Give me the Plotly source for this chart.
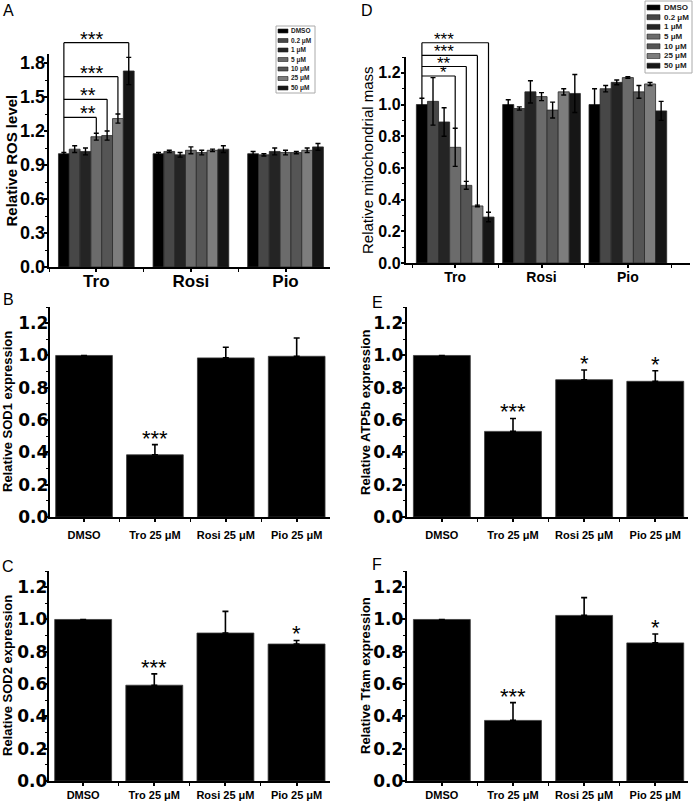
import plotly.graph_objects as go

W, H = 693, 806

# ---------------- data ----------------
conc_labels = ["DMSO", "0.2 μM", "1 μM", "5 μM", "10 μM", "25 μM", "50 μM"]
conc_colors = ["#000000", "#474747", "#242424", "#6b6b6b", "#555555", "#7d7d7d", "#161616"]
drugs = ["Tro", "Rosi", "Pio"]

# Panel A: relative ROS level
ros_tro = [1.00, 1.04, 1.02, 1.15, 1.16, 1.31, 1.73]
ros_tro_err = [0.01, 0.03, 0.03, 0.03, 0.04, 0.04, 0.12]
ros_rosi = [1.00, 1.02, 0.99, 1.03, 1.01, 1.03, 1.04]
ros_rosi_err = [0.01, 0.01, 0.02, 0.03, 0.02, 0.01, 0.03]
ros_pio = [1.00, 0.99, 1.02, 1.01, 1.01, 1.03, 1.06]
ros_pio_err = [0.02, 0.01, 0.03, 0.02, 0.01, 0.02, 0.03]

# Panel D: relative mitochondrial mass
mito_tro = [1.00, 1.02, 0.89, 0.73, 0.49, 0.36, 0.29]
mito_tro_err = [0.04, 0.15, 0.09, 0.12, 0.025, 0.005, 0.03]
mito_rosi = [1.00, 0.975, 1.08, 1.05, 0.965, 1.08, 1.07]
mito_rosi_err = [0.03, 0.01, 0.07, 0.025, 0.05, 0.02, 0.12]
mito_pio = [1.00, 1.10, 1.14, 1.17, 1.08, 1.13, 0.96]
mito_pio_err = [0.10, 0.02, 0.015, 0.005, 0.04, 0.01, 0.06]

# Panels B, C, E, F
treatments = ["DMSO", "Tro 25 μM", "Rosi 25 μM", "Pio 25 μM"]
sod1 = [1.00, 0.385, 0.985, 0.995]
sod1_err = [0, 0.063, 0.066, 0.113]
sod2 = [1.00, 0.593, 0.916, 0.848]
sod2_err = [0, 0.070, 0.134, 0.022]
atp5b = [1.00, 0.53, 0.85, 0.84]
atp5b_err = [0, 0.080, 0.060, 0.065]
tfam = [1.00, 0.375, 1.025, 0.855]
tfam_err = [0, 0.110, 0.110, 0.055]

# significance marks: (bar index compared with DMSO, bracket height, label)
sig_A = [(6, 1.98, "***"), (5, 1.68, "***"), (4, 1.48, "**"), (3, 1.32, "**")]
sig_D = [(6, 1.39, "***"), (5, 1.31, "***"), (4, 1.24, "**"), (3, 1.18, "*")]
sig_B = [(1, "***")]
sig_C = [(1, "***"), (3, "*")]
sig_E = [(1, "***"), (2, "*"), (3, "*")]
sig_F = [(1, "***"), (3, "*")]

# ---------------- layout helpers ----------------
ARIAL = "Liberation Sans, Arial, sans-serif"
DEJAVU = "DejaVu Sans, sans-serif"


def xdom(x0, x1):
    return [x0 / W, x1 / W]


def ydom(top, bottom):
    return [1 - bottom / H, 1 - top / H]


fig = go.Figure()

panels = {
    # axis suffix, x px span, y px span (top,bottom), x range, y max, dtick, label standoffs (x, y)
    "A": dict(ax="", xd=(49, 330), yd=(54, 267), xr=[-0.5, 2.47], ymax=1.88, dt=0.3, xs=-6, ys=-5),
    "B": dict(ax="2", xd=(50, 330), yd=(307, 517), xr=[-0.48, 3.47], ymax=1.3, dt=0.2, xs=4, ys=-7),
    "C": dict(ax="3", xd=(49, 330), yd=(571, 781), xr=[-0.48, 3.47], ymax=1.3, dt=0.2, xs=0, ys=-7),
    "D": dict(ax="4", xd=(406, 690), yd=(57, 263), xr=[-0.57, 2.72], ymax=1.3, dt=0.2, xs=-3, ys=-3),
    "E": dict(ax="5", xd=(407, 688), yd=(307, 517), xr=[-0.49, 3.46], ymax=1.3, dt=0.2, xs=4, ys=-5),
    "F": dict(ax="6", xd=(407, 688), yd=(571, 781), xr=[-0.49, 3.46], ymax=1.3, dt=0.2, xs=0, ys=-5),
}

GW = {"A": 0.8, "D": 0.9}  # group widths
NC = len(conc_labels)


def bar_x(panel, i, g):
    w = GW[panel] / NC
    return g - GW[panel] / 2 + w * (i + 0.5)


# ---- grouped panels A and D ----
for pname, series in (("A", (ros_tro, ros_rosi, ros_pio, ros_tro_err, ros_rosi_err, ros_pio_err)),
                      ("D", (mito_tro, mito_rosi, mito_pio, mito_tro_err, mito_rosi_err, mito_pio_err))):
    p = panels[pname]
    t, r, pi, te, re, pe = series
    w = GW[pname] / NC
    for i in range(NC):
        fig.add_trace(go.Bar(
            x=[0, 1, 2], y=[t[i], r[i], pi[i]],
            width=w, offset=-GW[pname] / 2 + w * i,
            error_y=dict(type="data", array=[te[i], re[i], pe[i]], color="black",
                         thickness=1.4, width=2.5),
            marker=dict(color=conc_colors[i], line=dict(color="#2a2a2a", width=0.8)),
            name=conc_labels[i], showlegend=False,
            xaxis="x" + p["ax"], yaxis="y" + p["ax"],
        ))

# ---- single series panels ----
single = {"B": (sod1, sod1_err), "C": (sod2, sod2_err), "E": (atp5b, atp5b_err), "F": (tfam, tfam_err)}
for pname, (vals, errs) in single.items():
    p = panels[pname]
    fig.add_trace(go.Bar(
        x=list(range(len(treatments))), y=vals, width=0.8,
        error_y=dict(type="data", symmetric=False, array=errs, arrayminus=[0] * len(errs),
                     color="black", thickness=1.6, width=3),
        marker=dict(color="black", line=dict(color="#3a3a3a", width=0.8)),
        showlegend=False, xaxis="x" + p["ax"], yaxis="y" + p["ax"],
    ))

layout = dict(width=W, height=H, margin=dict(l=0, r=0, t=0, b=0),
              plot_bgcolor="white", paper_bgcolor="white", showlegend=False,
              barmode="overlay")

style = {
    "A": dict(ytf=dict(family=ARIAL, size=18, weight="bold"), xtf=dict(family=ARIAL, size=17, weight="bold")),
    "D": dict(ytf=dict(family=ARIAL, size=16, weight="bold"), xtf=dict(family=ARIAL, size=14, weight="bold")),
}
for k in "BCEF":
    style[k] = dict(ytf=dict(family=DEJAVU, size=17, weight="bold"), xtf=dict(family=ARIAL, size=11, weight="bold"))

for pname, p in panels.items():
    sfx = p["ax"]
    n = 3 if pname in ("A", "D") else 4
    ticktext = drugs if n == 3 else treatments
    common = dict(showline=True, linecolor="black", linewidth=1.5, ticks="outside",
                  ticklen=3.5, tickwidth=1.5, tickcolor="black", showgrid=False,
                  zeroline=False, automargin=False)
    layout["xaxis" + sfx] = dict(
        domain=xdom(*p["xd"]), range=p["xr"], anchor="y" + sfx,
        tickmode="array", tickvals=list(range(n)), ticktext=ticktext,
        tickfont=dict(color="black", **style[pname]["xtf"]),
        ticklabelstandoff=p["xs"],
        minor=dict(tickmode="array", tickvals=[k + 0.5 for k in range(-1, n)],
                   ticks="outside", ticklen=3, tickwidth=1.2, tickcolor="black"),
        **common)
    layout["yaxis" + sfx] = dict(
        domain=ydom(*p["yd"]), range=[0, p["ymax"]], anchor="x" + sfx,
        tick0=0, dtick=p["dt"], tickformat=".1f",
        tickfont=dict(color="black", **style[pname]["ytf"]),
        minor=dict(dtick=p["dt"] / 2, ticks="outside", ticklen=2.5, tickwidth=1.2, tickcolor="black"),
        ticklabelstandoff=p["ys"],
        **common)

fig.update_layout(**layout)

shapes = []
annotations = []

# ---- brackets for A and D ----
for pname, sig, vals, errs, starsize, star_xanchor, star_x, yshift in (
        ("A", sig_A, ros_tro, ros_tro_err, 20, "left", -0.195, -9),
        ("D", sig_D, mito_tro, mito_tro_err, 17, "center", -0.133, -8)):
    p = panels[pname]
    sfx = p["ax"]
    ymax = p["ymax"]
    x0 = bar_x(pname, 0, 0)
    top = max(s[1] for s in sig)
    ln = dict(color="black", width=1.2)
    shapes.append(dict(type="line", xref="x" + sfx, yref="y" + sfx + " domain",
                       x0=x0, x1=x0, y0=(vals[0] + errs[0]) / ymax, y1=top / ymax, line=ln))
    for j, hgt, lab in sig:
        xj = bar_x(pname, j, 0)
        shapes.append(dict(type="line", xref="x" + sfx, yref="y" + sfx + " domain",
                           x0=x0, x1=xj, y0=hgt / ymax, y1=hgt / ymax, line=ln))
        shapes.append(dict(type="line", xref="x" + sfx, yref="y" + sfx + " domain",
                           x0=xj, x1=xj, y0=hgt / ymax, y1=(vals[j] + errs[j]) / ymax, line=ln))
        annotations.append(dict(text=lab, xref="x" + sfx, yref="y" + sfx + " domain",
                                x=star_x, y=hgt / ymax, xanchor=star_xanchor, yanchor="bottom",
                                yshift=yshift, showarrow=False,
                                font=dict(family=ARIAL, size=starsize, color="black")))

# ---- stars for B, C, E, F ----
for pname, sig in (("B", sig_B), ("C", sig_C), ("E", sig_E), ("F", sig_F)):
    p = panels[pname]
    vals, errs = single[pname]
    for j, lab in sig:
        annotations.append(dict(text=lab, xref="x" + p["ax"], yref="y" + p["ax"],
                                x=j, y=vals[j] + errs[j], xanchor="center", yanchor="bottom",
                                yshift=-8, showarrow=False,
                                font=dict(family=ARIAL, size=22, color="black")))

# ---- y axis titles ----
ytitles = {
    "A": ("Relative ROS level", 11, dict(family=ARIAL, size=15, weight="bold")),
    "D": ("Relative mitochondrial mass", 367, dict(family=ARIAL, size=15)),
    "B": ("Relative SOD1 expression", 8, dict(family=ARIAL, size=13, weight="bold")),
    "C": ("Relative SOD2 expression", 8, dict(family=ARIAL, size=13, weight="bold")),
    "E": ("Relative ATP5b expression", 366, dict(family=ARIAL, size=13, weight="bold")),
    "F": ("Relative Tfam expression", 366, dict(family=ARIAL, size=13, weight="bold")),
}
for pname, (txt, xc, fnt) in ytitles.items():
    yd = ydom(*panels[pname]["yd"])
    annotations.append(dict(text=txt, xref="paper", yref="paper", x=xc / W, y=(yd[0] + yd[1]) / 2,
                            xanchor="center", yanchor="middle", textangle=-90, showarrow=False,
                            font=dict(color="black", **fnt)))

# ---- panel letters ----
letters = {"A": (8, 11), "D": (367, 11), "B": (8, 300), "E": (377, 302), "C": (8, 566), "F": (377, 564)}
for L, (xc, yc) in letters.items():
    annotations.append(dict(text=L, xref="paper", yref="paper", x=xc / W, y=1 - yc / H,
                            xanchor="center", yanchor="middle", showarrow=False,
                            font=dict(family=ARIAL, size=16, color="black")))

# ---- legends (drawn as key boxes) ----
legends = [
    dict(box=(276, 26, 315, 93), y0=31, dy=9.5, sx=(278, 288), sh=4, tx=289, fs=6.5),
    dict(box=(645, 1, 692, 73), y0=7.5, dy=9.7, sx=(647, 660), sh=5, tx=662, fs=8),
]
for lg in legends:
    bx0, by0, bx1, by1 = lg["box"]
    shapes.append(dict(type="rect", xref="paper", yref="paper", x0=bx0 / W, x1=bx1 / W,
                       y0=1 - by1 / H, y1=1 - by0 / H, line=dict(color="#aaaaaa", width=1),
                       fillcolor="white"))
    for i, (lab, col) in enumerate(zip(conc_labels, conc_colors)):
        yc = lg["y0"] + lg["dy"] * i
        shapes.append(dict(type="rect", xref="paper", yref="paper",
                           x0=lg["sx"][0] / W, x1=lg["sx"][1] / W,
                           y0=1 - (yc + lg["sh"] / 2) / H, y1=1 - (yc - lg["sh"] / 2) / H,
                           fillcolor=col, line=dict(color="#222222", width=0.6)))
        annotations.append(dict(text=lab, xref="paper", yref="paper", x=lg["tx"] / W, y=1 - yc / H,
                                xanchor="left", yanchor="middle", showarrow=False,
                                font=dict(family=ARIAL, size=lg["fs"], weight="bold", color="#222222")))

fig.update_layout(shapes=shapes, annotations=annotations)
fig.write_html("out.html", config={"displayModeBar": False},
               post_script="document.body.style.margin='0px';document.body.style.overflow='hidden';")
